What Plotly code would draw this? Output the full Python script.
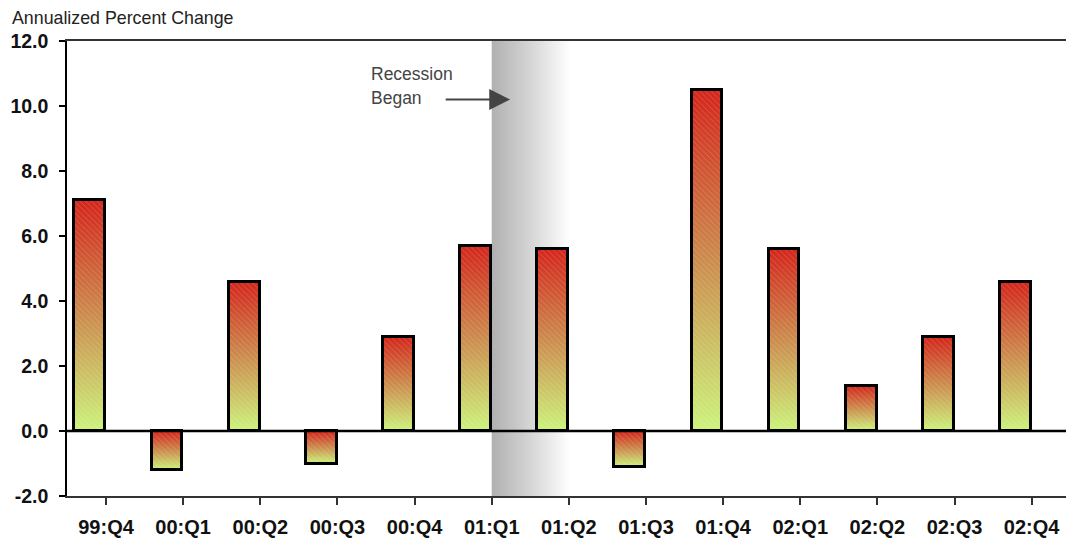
import plotly.graph_objects as go

quarters = ["99:Q4", "00:Q1", "00:Q2", "00:Q3", "00:Q4", "01:Q1", "01:Q2",
            "01:Q3", "01:Q4", "02:Q1", "02:Q2", "02:Q3", "02:Q4"]
values = [7.1, -1.2, 4.6, -1.0, 2.9, 5.7, 5.6, -1.1, 10.5, 5.6, 1.4, 2.9, 4.6]
y_ticks = [-2, 0, 2, 4, 6, 8, 10, 12]
y_ticktext = ["-2.0", "0.0", "2.0", "4.0", "6.0", "8.0", "10.0", "12.0"]
recession_start = 5   # index of 01:Q1
recession_end = 6.02

BAR_W = 0.40
BAR_OFF = -0.41
RED = "rgb(212,38,28)"
GREEN = "rgb(204,244,124)"
FONT = "Arial, Liberation Sans, sans-serif"
X_RANGE = [-0.506, 12.445]
Y_RANGE = [-2, 12]

idx = list(range(len(quarters)))
fig = go.Figure()

# recession shading
fig.add_trace(go.Scatter(
    x=[recession_start, recession_end, recession_end, recession_start, recession_start],
    y=[Y_RANGE[0], Y_RANGE[0], Y_RANGE[1], Y_RANGE[1], Y_RANGE[0]],
    mode="lines", line=dict(width=0), fill="toself",
    fillgradient=dict(type="horizontal",
                      colorscale=[[0, "rgb(176,176,176)"], [0.5, "rgb(214,214,214)"], [1, "rgb(255,255,255)"]]),
    hoverinfo="skip", showlegend=False))

# gradient fills for each bar
for i, v in zip(idx, values):
    x0 = i + BAR_OFF
    x1 = x0 + BAR_W
    fig.add_trace(go.Scatter(
        x=[x0, x1, x1, x0, x0], y=[0, 0, v, v, 0],
        mode="lines", line=dict(width=0), fill="toself",
        fillgradient=dict(type="vertical", colorscale=[[0, GREEN], [0.5, "rgb(204,140,78)"], [1, RED]]),
        hoverinfo="skip", showlegend=False))

# bars (outline + hatch) on an overlaying axis pair so they draw on top
fig.add_trace(go.Bar(
    x=idx, y=values, width=BAR_W, offset=BAR_OFF, xaxis="x2", yaxis="y2",
    marker=dict(color="rgba(0,0,0,0)",
                line=dict(color="black", width=3),
                pattern=dict(shape="\\", fgcolor="white", fgopacity=0.22,
                             size=4, solidity=0.2, fillmode="overlay")),
    showlegend=False, hoverinfo="x+y"))

fig.add_shape(type="line", xref="paper", x0=0, x1=1, yref="y", y0=0, y1=0,
              line=dict(color="black", width=2.5), layer="above")

fig.add_annotation(x=3.41, y=11.0, xref="x", yref="y", text="Recession", showarrow=False,
                   xanchor="left", yanchor="middle", font=dict(family=FONT, size=17.5, color="#444"))
fig.add_annotation(x=3.41, y=10.25, xref="x", yref="y", text="Began", showarrow=False,
                   xanchor="left", yanchor="middle", font=dict(family=FONT, size=17.5, color="#444"))
fig.add_annotation(x=5.24, y=10.2, xref="x", yref="y", ax=-66, ay=0, text="",
                   showarrow=True, arrowhead=2, arrowsize=2.1, arrowwidth=2, arrowcolor="#444")

fig.update_layout(
    width=1066, height=539,
    margin=dict(l=67, r=0, t=41, b=43, autoexpand=False),
    paper_bgcolor="white", plot_bgcolor="white",
    bargap=0,
    title=dict(text="Annualized Percent Change", x=12 / 1066, xanchor="left",
               xref="container", y=1 - 18 / 539, yanchor="middle", yref="container",
               font=dict(family=FONT, size=17.8, color="#222")),
    xaxis=dict(range=X_RANGE, tickmode="array", tickvals=idx, ticktext=quarters,
               showgrid=False, zeroline=False, showline=True, linecolor="#333", linewidth=1.5,
               mirror=True, ticks="outside", ticklen=7, tickwidth=1.5, tickcolor="#333",
               ticklabelstandoff=5, automargin=False,
               tickfont=dict(family=FONT, size=20, color="#111", weight="bold"),
               layer="below traces"),
    yaxis=dict(range=Y_RANGE, tickmode="array", tickvals=y_ticks, ticktext=y_ticktext,
               showgrid=False, zeroline=False, showline=True, linecolor="black", linewidth=1.5,
               ticks="outside", ticklen=6, tickwidth=1.5, tickcolor="black",
               ticklabelstandoff=7, automargin=False,
               tickfont=dict(family=FONT, size=19.5, color="#111", weight="bold")),
    xaxis2=dict(range=X_RANGE, overlaying="x", visible=False),
    yaxis2=dict(range=Y_RANGE, overlaying="y", visible=False),
)

fig.write_html("out.html")
